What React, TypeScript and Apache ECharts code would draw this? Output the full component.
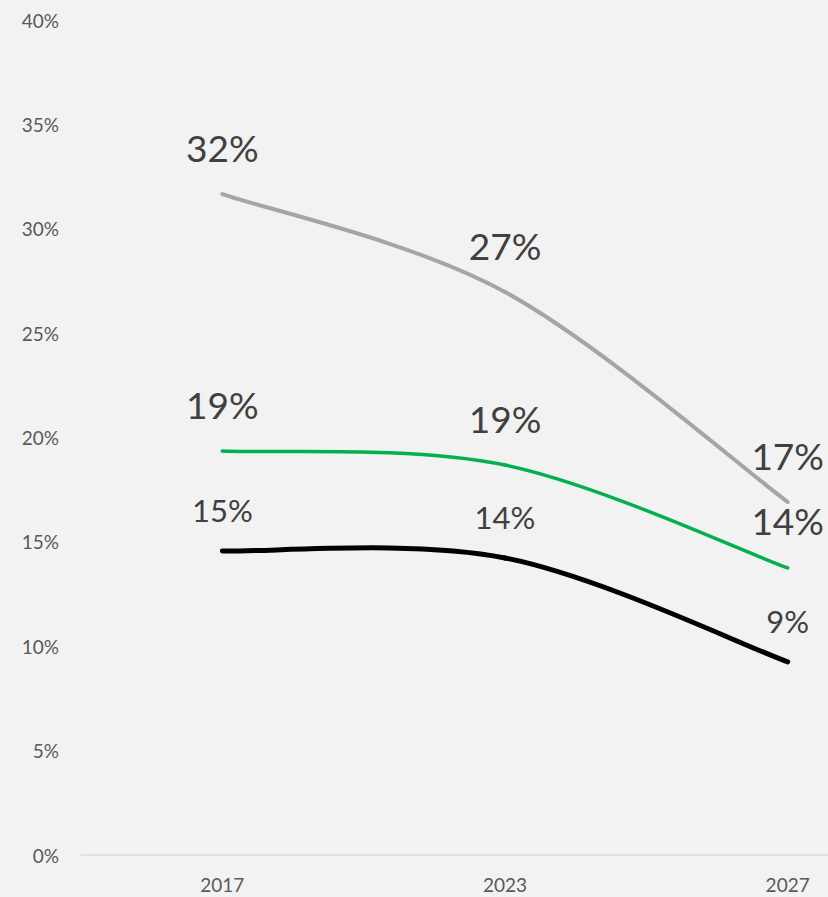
import React, { useEffect, useRef } from "react";
import * as echarts from "echarts";

const categories = ["2017", "2023", "2027"];
const grayValues = [31.66, 26.97, 16.91];
const greenValues = [19.35, 18.68, 13.75];
const blackValues = [14.56, 14.23, 9.25];
const yTicks = [0, 5, 10, 15, 20, 25, 30, 35, 40];

const FONT = "Lato, 'Noto Sans', sans-serif";

export default function App() {
  const ref = useRef<HTMLDivElement>(null);
  useEffect(() => {
    document.body.style.margin = "0";
    if (!ref.current) return;
    const chart = echarts.init(ref.current, undefined, { renderer: "svg" });

    // label carrier (invisible line) + Excel-like smoothed curve (custom series)
    const labelSeries = (data: number[], fontSize: number, dist: number) => ({
      type: "line",
      data,
      symbol: "circle",
      symbolSize: 1,
      showSymbol: true,
      itemStyle: { color: "rgba(0,0,0,0)" },
      lineStyle: { opacity: 0, width: 0 },
      z: 3,
      label: {
        show: true,
        position: "top",
        distance: dist,
        formatter: (p: any) => Math.round(p.value) + "%",
        fontSize,
        fontFamily: FONT,
        color: "#404040",
      },
    });

    const curveSeries = (data: number[], color: string, width: number) => ({
      type: "custom",
      data: data.map((v, i) => [i, v]),
      encode: { x: 0, y: 1 },
      z: 2,
      renderItem: (params: any, api: any) => {
        const i = params.dataIndex;
        if (i >= data.length - 1) return null;
        const pt = (k: number) => {
          const kk = Math.max(0, Math.min(data.length - 1, k));
          return api.coord([kk, data[kk]]);
        };
        const p0 = pt(i - 1);
        const p1 = pt(i);
        const p2 = pt(i + 1);
        const p3 = pt(i + 2);
        const cpx1 = p1[0] + (p2[0] - p0[0]) / 6;
        const cpy1 = p1[1] + (p2[1] - p0[1]) / 6;
        const cpx2 = p2[0] - (p3[0] - p1[0]) / 6;
        const cpy2 = p2[1] - (p3[1] - p1[1]) / 6;
        return {
          type: "bezierCurve",
          shape: { x1: p1[0], y1: p1[1], x2: p2[0], y2: p2[1], cpx1, cpy1, cpx2, cpy2 },
          style: { stroke: color, lineWidth: width, fill: null, lineCap: "round" },
        };
      },
    });

    chart.setOption({
      animation: false,
      backgroundColor: "#f2f2f2",
      grid: { left: 81, top: 20, width: 848, bottom: 42, containLabel: false, outerBoundsMode: "none" },
      xAxis: {
        type: "category",
        data: categories,
        boundaryGap: true,
        axisLine: { show: true, lineStyle: { color: "#d9d9d9", width: 1.5 } },
        axisTick: { show: false },
        axisLabel: { color: "#595959", fontSize: 19, fontFamily: FONT, margin: 20 },
        splitLine: { show: false },
      },
      yAxis: {
        type: "value",
        min: yTicks[0],
        max: yTicks[yTicks.length - 1],
        interval: 5,
        axisLine: { show: false },
        axisTick: { show: false },
        splitLine: { show: false },
        axisLabel: {
          color: "#595959",
          fontSize: 19,
          fontFamily: FONT,
          margin: 22,
          formatter: (v: number) => v + "%",
        },
      },
      series: [
        curveSeries(grayValues, "#a5a5a5", 4),
        curveSeries(greenValues, "#00b050", 3.5),
        curveSeries(blackValues, "#000000", 5),
        labelSeries(grayValues, 37, 28),
        labelSeries(greenValues, 37, 28),
        labelSeries(blackValues, 31, 25),
      ],
    });
    return () => chart.dispose();
  }, []);
  return <div ref={ref} style={{ width: 828, height: 897 }} />;
}
